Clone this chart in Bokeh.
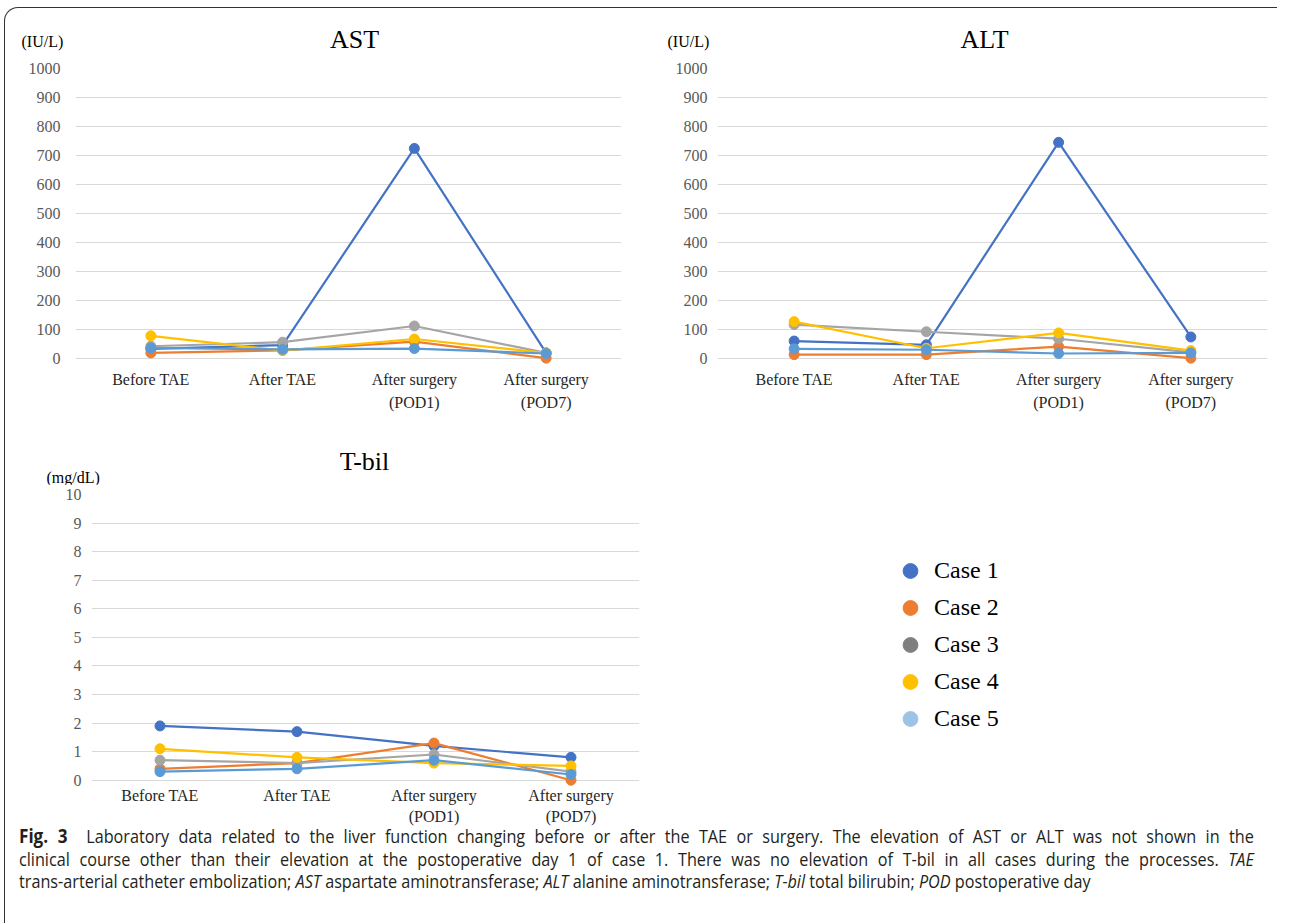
from bokeh.plotting import figure
from bokeh.models import FactorRange, Range1d, FixedTicker, Legend, LegendItem, Div
from bokeh.layouts import row, column
from bokeh.embed import file_html
from bokeh.resources import INLINE

# ---------------- data ----------------
stages = ["Before TAE", "After TAE", "After surgery\n(POD1)", "After surgery\n(POD7)"]
cases = ["Case 1", "Case 2", "Case 3", "Case 4", "Case 5"]

ast_case1 = [32, 45, 724, 18]
ast_case2 = [18, 27, 57, 0]
ast_case3 = [41, 55, 111, 18]
ast_case4 = [77, 26, 66, 18]
ast_case5 = [35, 30, 33, 16]

alt_case1 = [59, 46, 745, 73]
alt_case2 = [12, 12, 40, 0]
alt_case3 = [116, 91, 67, 20]
alt_case4 = [126, 34, 87, 26]
alt_case5 = [32, 29, 16, 18]

tbil_case1 = [1.9, 1.7, 1.2, 0.8]
tbil_case2 = [0.4, 0.6, 1.3, 0.0]
tbil_case3 = [0.7, 0.6, 0.9, 0.3]
tbil_case4 = [1.1, 0.8, 0.6, 0.5]
tbil_case5 = [0.3, 0.4, 0.7, 0.2]

iu_ticks = [0, 100, 200, 300, 400, 500, 600, 700, 800, 900, 1000]
mg_ticks = [0, 1, 2, 3, 4, 5, 6, 7, 8, 9, 10]

line_colors = ["#4472C4", "#ED7D31", "#A5A5A5", "#FFC000", "#5B9BD5"]
legend_colors = ["#4472C4", "#ED7D31", "#7F7F7F", "#FFC000", "#9DC3E6"]

SERIF = "Liberation Serif"


def make_chart(series, ticks, ybottom, width, height,
               mb_left, mb_right, mb_top, mb_bottom, pad, ystand, xstand, lh):
    p = figure(width=width, height=height, output_backend="svg", toolbar_location=None,
               x_range=FactorRange(factors=stages, range_padding=pad),
               y_range=Range1d(ybottom, ticks[-1]),
               min_border_left=mb_left, min_border_right=mb_right,
               min_border_top=mb_top, min_border_bottom=mb_bottom)
    p.outline_line_color = None
    p.background_fill_color = "white"
    p.border_fill_color = "white"
    p.xgrid.visible = False
    p.ygrid.grid_line_color = "#D9D9D9"
    p.ygrid.grid_line_width = 1
    p.yaxis.ticker = FixedTicker(ticks=ticks)
    for ax in (p.xaxis, p.yaxis):
        ax.axis_line_color = None
        ax.major_tick_line_color = None
        ax.minor_tick_line_color = None
        ax.major_tick_in = 0
        ax.major_tick_out = 0
    p.yaxis.major_label_standoff = ystand
    p.yaxis.major_label_text_font = SERIF
    p.yaxis.major_label_text_font_size = "16px"
    p.yaxis.major_label_text_color = "#595959"
    p.xaxis.major_label_standoff = xstand
    p.xaxis.major_label_text_font = SERIF
    p.xaxis.major_label_text_font_size = "16px"
    p.xaxis.major_label_text_color = "#262626"
    p.xaxis.major_label_text_line_height = lh

    for vals, col in zip(series, line_colors):
        p.line(stages, vals, line_color=col, line_width=2.2)
        p.scatter(stages, vals, size=10, fill_color=col, line_color=col)
    return p


def header(width, height, unit, unit_left, unit_cy, title, title_cx, title_cy):
    html = (
        f'<div style="position:relative;width:{width}px;height:{height}px;'
        f'font-family:\'{SERIF}\',serif;color:#000;">'
        f'<span style="position:absolute;left:{unit_left}px;top:{unit_cy - 15}px;'
        f'line-height:30px;font-size:16px;white-space:nowrap;">{unit}</span>'
        f'<span style="position:absolute;left:{title_cx}px;top:{title_cy - 15}px;'
        f'transform:translateX(-50%);line-height:30px;font-size:26px;white-space:nowrap;">{title}</span>'
        '</div>'
    )
    return Div(text=html, width=width, height=height, margin=0)


ast = make_chart([ast_case1, ast_case2, ast_case3, ast_case4, ast_case5],
                 iu_ticks, -22, 640, 370, 70, 24, 10, 64, 0.036, 15, 6, 1.4)
alt = make_chart([alt_case1, alt_case2, alt_case3, alt_case4, alt_case5],
                 iu_ticks, -22, 632, 370, 72, 10, 10, 64, 0.0398, 10, 6, 1.4)
tbil = make_chart([tbil_case1, tbil_case2, tbil_case3, tbil_case4, tbil_case5],
                  mg_ticks, -0.22, 640, 359, 86, 6, 10, 57, 0.0, 10, 0, 1.25)

ast_head = header(640, 50, "(IU/L)", 16.5, 33.5, "AST", 349.5, 31.5)
alt_head = header(632, 50, "(IU/L)", 22.5, 33.5, "ALT", 339.5, 31.5)
tbil_head = header(640, 56, "(mg/dL)", 41.5, 49.5, "T-bil", 359.5, 33.5)

# ---------------- legend panel ----------------
leg = figure(width=632, height=415, output_backend="svg", toolbar_location=None,
             x_range=Range1d(0, 1), y_range=Range1d(0, 1),
             x_axis_location=None, y_axis_location=None,
             min_border_left=244, min_border_top=124, min_border_right=0, min_border_bottom=0)
leg.outline_line_color = None
leg.xgrid.visible = False
leg.ygrid.visible = False
items = []
for name, col in zip(cases, legend_colors):
    # off-range proxy point: only its legend swatch is visible
    r = leg.scatter(x=[-5], y=[-5], size=16, fill_color=col, line_color=col)
    items.append(LegendItem(label=name, renderers=[r]))
legend = Legend(items=items, location="top_left", glyph_width=42, glyph_height=37,
                spacing=0, padding=0, margin=0, label_standoff=3,
                label_text_font=SERIF, label_text_font_size="24px",
                label_text_color="#000000", label_height=37,
                border_line_color=None, background_fill_alpha=0)
leg.add_layout(legend)

# ---------------- caption ----------------
line_style = "text-align:justify;text-align-last:justify;"
caption_html = (
    '<div style="font-family:\'Open Sans\',sans-serif;font-size:18px;line-height:22.5px;color:#231f20;'
    'width:1372px;transform:scaleX(0.9);transform-origin:0 0;">'
    f'<div style="{line_style}"><b style="font-size:19px;">Fig. 3</b>&nbsp;&nbsp;Laboratory data related to the liver '
    'function changing before or after the TAE or surgery. The elevation of AST or ALT was not shown in the</div>'
    f'<div style="{line_style}">clinical course other than their elevation at the postoperative day 1 of case 1. '
    'There was no elevation of T-bil in all cases during the processes. <i>TAE</i></div>'
    '<div>trans-arterial catheter embolization; <i>AST</i> aspartate aminotransferase; '
    '<i>ALT</i> alanine aminotransferase; <i>T-bil</i> total bilirubin; <i>POD</i> postoperative day</div>'
    '</div>'
)
caption = Div(text=caption_html, width=1255, height=100, margin=(-18, 0, 0, 14))

layout = column(
    row(column(ast_head, ast), column(alt_head, alt)),
    row(column(tbil_head, tbil), leg),
    caption,
    margin=(7, 0, 0, 4),
    styles={"border-top": "1.5px solid #333", "border-left": "1.5px solid #333",
            "border-top-left-radius": "14px", "background": "white"})

open("out.html", "w").write(file_html(layout, INLINE))
